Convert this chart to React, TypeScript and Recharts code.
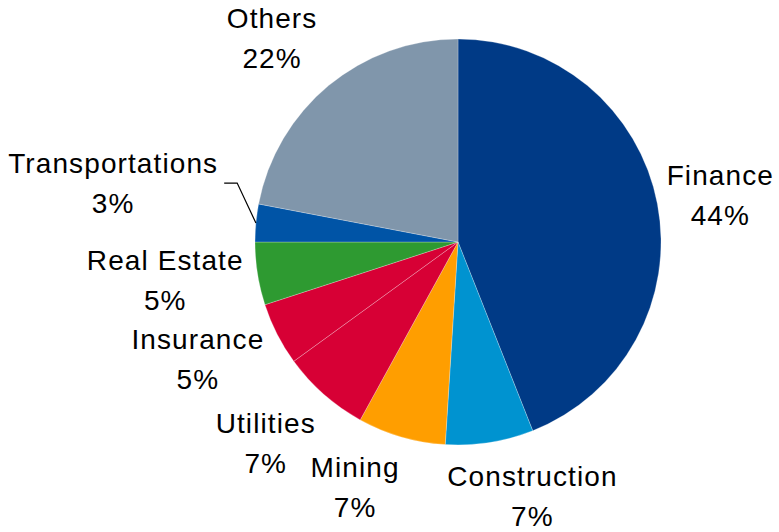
import { PieChart, Pie, Cell } from 'recharts';

const sectors = ['Finance', 'Construction', 'Mining', 'Utilities', 'Insurance', 'Real Estate', 'Transportations', 'Others'];
const shares = [44, 7, 7, 7, 5, 5, 3, 22];
const colors = ['#003A86', '#0093D0', '#FF9E00', '#D70035', '#D70035', '#2E9A31', '#0054A6', '#8096AB'];

// manual label nudges (Excel-style hand placed labels)
const labelNudge = [
  [2, 3], [33, -8], [-29, -9], [-17, 2], [-24, -3], [-31, -3], [-81, -34], [-17, 0],
];

const chartData = sectors.map((name, i) => ({ name, value: shares[i] }));

const RADIAN = Math.PI / 180;

function renderLabel(props: any) {
  const { cx, cy, midAngle, outerRadius, index, name, value } = props;
  const r = outerRadius + 62;
  const x = cx + r * Math.cos(-midAngle * RADIAN) + labelNudge[index][0];
  const yc = cy + r * Math.sin(-midAngle * RADIAN) + labelNudge[index][1];
  const base = yc - 10;
  const textStyle = { fontFamily: 'Arial, "Liberation Sans", sans-serif', fontSize: 28, letterSpacing: 1.1 };
  let leader = null;
  if (name === 'Transportations') {
    const sx = cx + outerRadius * Math.cos(-midAngle * RADIAN);
    const sy = cy + outerRadius * Math.sin(-midAngle * RADIAN);
    leader = (
      <polyline
        points={`${sx},${sy} ${x + 124},${base + 10} ${x + 111},${base + 10}`}
        fill="none"
        stroke="#000"
        strokeWidth={1.2}
      />
    );
  }
  return (
    <g key={`lbl-${index}`}>
      {leader}
      <text x={x} y={base} textAnchor="middle" fill="#000" style={textStyle}>{name}</text>
      <text x={x} y={base + 40} textAnchor="middle" fill="#000" style={textStyle}>{`${value}%`}</text>
    </g>
  );
}

export default function App() {
  return (
    <div style={{ position: 'absolute', left: 0, top: 0, width: 779, height: 532, background: '#fff' }}>
      <PieChart width={779} height={532} margin={{ top: 0, right: 0, bottom: 0, left: 0 }}>
        <Pie
          data={chartData}
          dataKey="value"
          nameKey="name"
          cx={458}
          cy={242}
          outerRadius={203}
          startAngle={90}
          endAngle={-270}
          stroke="#ffffff"
          strokeWidth={0.25}
          label={renderLabel}
          labelLine={false}
          isAnimationActive={false}
        >
          {chartData.map((d, i) => (
            <Cell key={d.name} fill={colors[i]} />
          ))}
        </Pie>
      </PieChart>
    </div>
  );
}
